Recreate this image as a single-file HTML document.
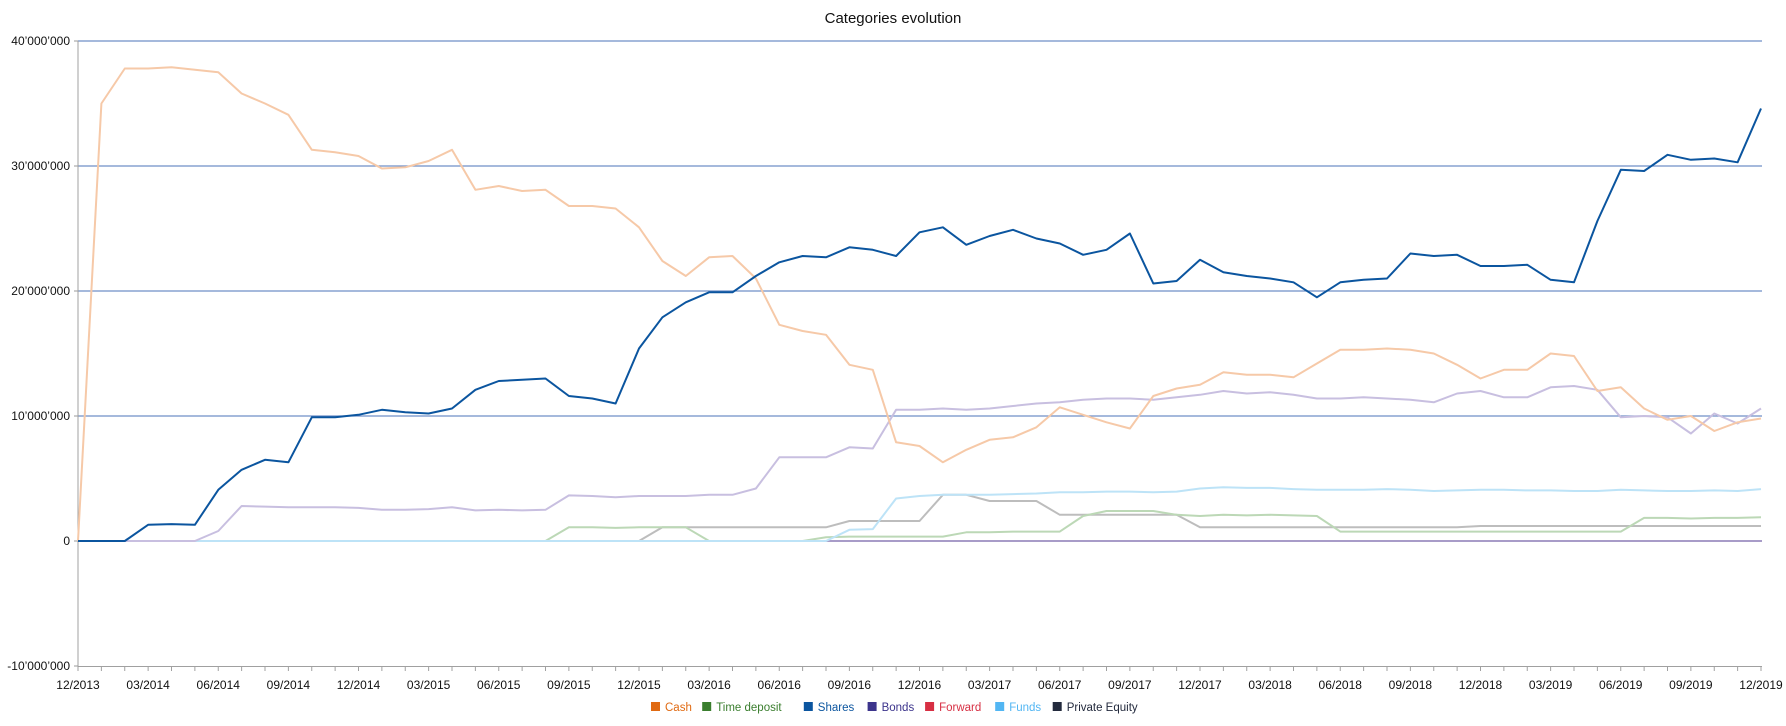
<!DOCTYPE html>
<html><head><meta charset="utf-8"><style>
body{margin:0;background:#fff;width:1786px;height:721px;overflow:hidden;font-family:"Liberation Sans",sans-serif}
</style></head><body>
<svg id="c" width="1786" height="721" xmlns="http://www.w3.org/2000/svg" font-family="Liberation Sans, sans-serif"></svg>
<script>
const X0=78,DX=1683/72,Y0=541,K=12.5;
const x=i=>X0+i*DX, y=v=>Y0-K*v;
function z(n){return Array(n).fill(0)}
const cash=[0,35,37.8,37.8,37.9,37.7,37.5,35.8,35,34.1,31.3,31.1,30.8,29.8,29.9,30.4,31.3,28.1,28.4,28,28.1,26.8,26.8,26.6,25.1,22.4,21.2,22.7,22.8,21,17.3,16.8,16.5,14.1,13.7,7.9,7.6,6.3,7.3,8.1,8.3,9.1,10.7,10.1,9.5,9.0,11.6,12.2,12.5,13.5,13.3,13.3,13.1,14.2,15.3,15.3,15.4,15.3,15.0,14.1,13.0,13.7,13.7,15.0,14.8,12.0,12.3,10.6,9.7,10.0,8.8,9.5,9.8];
const shares=[0,0,0,1.3,1.35,1.3,4.1,5.7,6.5,6.3,9.9,9.9,10.1,10.5,10.3,10.2,10.6,12.1,12.8,12.9,13,11.6,11.4,11.0,15.4,17.9,19.1,19.9,19.9,21.2,22.3,22.8,22.7,23.5,23.3,22.8,24.7,25.1,23.7,24.4,24.9,24.2,23.8,22.9,23.3,24.6,20.6,20.8,22.5,21.5,21.2,21.0,20.7,19.5,20.7,20.9,21.0,23.0,22.8,22.9,22.0,22.0,22.1,20.9,20.7,25.6,29.7,29.6,30.9,30.5,30.6,30.3,34.6];
const bonds=[0,0,0,0,0,0,0.8,2.8,2.75,2.7,2.7,2.7,2.65,2.5,2.5,2.55,2.7,2.45,2.5,2.45,2.5,3.65,3.6,3.5,3.6,3.6,3.6,3.7,3.7,4.2,6.7,6.7,6.7,7.5,7.4,10.5,10.5,10.6,10.5,10.6,10.8,11.0,11.1,11.3,11.4,11.4,11.3,11.5,11.7,12.0,11.8,11.9,11.7,11.4,11.4,11.5,11.4,11.3,11.1,11.8,12.0,11.5,11.5,12.3,12.4,12.1,9.9,10.0,9.9,8.6,10.2,9.4,10.6];
const funds=z(33).concat([0.9,0.95,3.4,3.6,3.7,3.7,3.7,3.75,3.8,3.9,3.9,3.95,3.95,3.9,3.95,4.2,4.3,4.25,4.25,4.15,4.1,4.1,4.1,4.15,4.1,4.0,4.05,4.1,4.1,4.05,4.05,4.0,4.0,4.1,4.05,4.0,4.0,4.05,4.0,4.15]);
const td=z(21).concat([1.1,1.1,1.05,1.1,1.1,1.1,0,0,0,0,0,0.3,0.35,0.35,0.35,0.35,0.35,0.7,0.7,0.75,0.75,0.75,2.0,2.4,2.4,2.4,2.1,2.0,2.1,2.05,2.1,2.05,2.0,0.75,0.75,0.75,0.75,0.75,0.75,0.75,0.75,0.75,0.75,0.75,0.75,0.75,1.85,1.85,1.8,1.85,1.85,1.9]);
const pe=z(25).concat([1.1,1.1,1.1,1.1,1.1,1.1,1.1,1.1,1.6,1.6,1.6,1.6,3.7,3.7,3.2,3.2,3.2,2.1,2.1,2.1,2.1,2.1,2.1,1.1,1.1,1.1,1.1,1.1,1.1,1.1,1.1,1.1,1.1,1.1,1.1,1.2,1.2,1.2,1.2,1.2,1.2,1.2,1.2,1.2,1.2,1.2,1.2,1.2]);
let s='';
s+=`<text x="893" y="23" text-anchor="middle" font-size="15" fill="#111">Categories evolution</text>`;
[40,30,20,10].forEach(v=>{s+=`<line x1="78" x2="1762" y1="${y(v)}" y2="${y(v)}" stroke="#6f8fc6" stroke-width="1.2"/>`});
const lab={40:"40’000’000",30:"30’000’000",20:"20’000’000",10:"10’000’000",0:"0","-10":"-10’000’000"};
[40,30,20,10,0,-10].forEach(v=>{s+=`<text x="70" y="${y(v)+4}" text-anchor="end" font-size="12" fill="#111">${lab[v]}</text><line x1="74" x2="78" y1="${y(v)}" y2="${y(v)}" stroke="#999"/>`});
s+=`<line x1="78" x2="78" y1="${y(40)}" y2="667" stroke="#a0a0a0"/><line x1="78" x2="1762" y1="666.5" y2="666.5" stroke="#a0a0a0"/>`;
for(let i=0;i<=72;i++){s+=`<line x1="${x(i)}" x2="${x(i)}" y1="666" y2="671" stroke="#a0a0a0"/>`;}
const ml=["12","03","06","09"];
for(let q=0;q<=24;q++){const yr=2013+Math.ceil(q/4);const m=ml[q%4];s+=`<text x="${x(q*3)}" y="689" text-anchor="middle" font-size="12" fill="#111">${m}/${yr}</text>`;}
s+=`<line x1="78" x2="1762" y1="${y(0)}" y2="${y(0)}" stroke="#a89cc8" stroke-width="2"/>`;
function path(d,c,w){d=d.slice(0,73);return `<polyline fill="none" stroke="${c}" stroke-width="${w}" stroke-linejoin="round" points="${d.map((v,i)=>x(i).toFixed(1)+','+y(v).toFixed(1)).join(' ')}"/>`}
s+=path(pe,"#bdbdbd",2)+path(td,"#bcd8b6",2)+path(funds,"#bde3f7",2)+path(bonds,"#c8bfe0",2)+path(cash,"#f6c9a8",2)+path(shares,"#0b559f",2);
const leg=[["Cash","#e06a12"],["Time deposit","#3a7e2e"],["Shares","#0b559f"],["Bonds","#3c348c"],["Forward","#d72f43"],["Funds","#52b6f3"],["Private Equity","#232a3d"]];
let lx=651;
leg.forEach(([t,c])=>{s+=`<rect x="${lx}" y="702" width="9" height="9" fill="${c}"/><text x="${lx+14}" y="711" font-size="11.5" fill="${c}">${t}</text>`;lx+=14+t.length*6.3+12;});
document.getElementById('c').innerHTML=s;
</script>
</body></html>
